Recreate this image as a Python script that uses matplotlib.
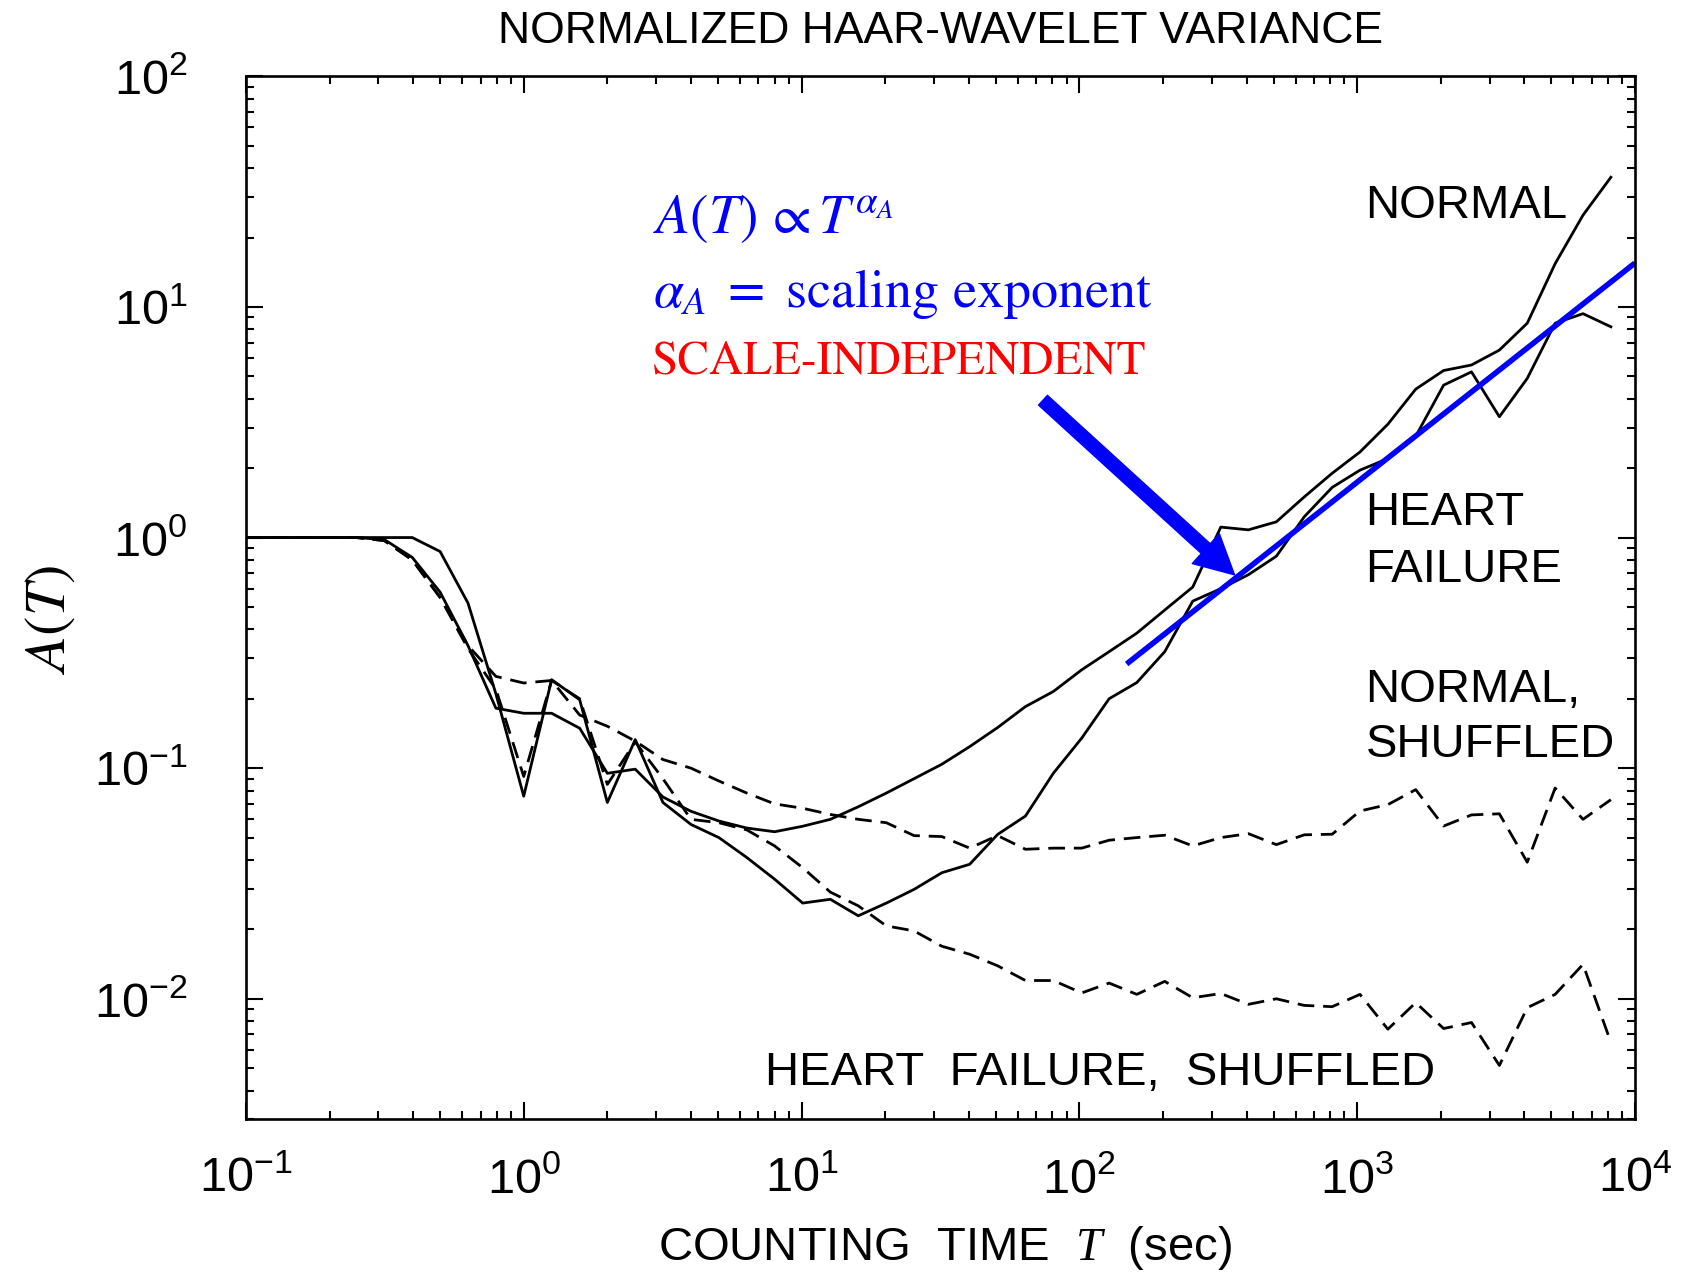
import matplotlib
matplotlib.use("Agg")
import matplotlib.pyplot as plt
from matplotlib.patches import FancyArrowPatch
from matplotlib.ticker import LogLocator, LogFormatterMathtext, NullFormatter

plt.rcParams['font.family'] = ['Liberation Sans', 'DejaVu Sans']
plt.rcParams['mathtext.fontset'] = 'custom'
plt.rcParams['mathtext.rm'] = 'Liberation Sans'
plt.rcParams['mathtext.it'] = 'Liberation Serif:italic'

# counting times (s), log spaced by 2^(1/3)
counting_time = [0.0992, 0.125, 0.157, 0.198, 0.25, 0.315, 0.397, 0.5, 0.63, 0.794,
                 1.0, 1.26, 1.59, 2.0, 2.52, 3.17, 4.0, 5.04, 6.35, 8.0,
                 10.1, 12.7, 16.0, 20.2, 25.4, 32.0, 40.3, 50.8, 64.0, 80.6,
                 102, 128, 161, 203, 256, 323, 406, 512, 645, 813,
                 1024, 1290, 1625, 2048, 2580, 3251, 4096, 5161, 6502, 8192]

normal = [1.0, 1.0, 1.0, 1.0, 1.0, 0.98, 0.82, 0.58, 0.34, 0.182,
          0.173, 0.173, 0.149, 0.095, 0.099, 0.075, 0.065, 0.059, 0.055, 0.053,
          0.056, 0.06, 0.068, 0.078, 0.09, 0.104, 0.124, 0.15, 0.185, 0.215,
          0.267, 0.32, 0.385, 0.485, 0.61, 1.11, 1.08, 1.17, 1.5, 1.9,
          2.35, 3.1, 4.4, 5.3, 5.6, 6.5, 8.5, 15.4, 25.0, 36.5]

heart_failure = [1.0, 1.0, 1.0, 1.0, 1.0, 1.0, 1.0, 0.87, 0.52, 0.21,
                 0.0756, 0.242, 0.198, 0.071, 0.133, 0.071, 0.057, 0.05, 0.041, 0.033,
                 0.026, 0.027, 0.0229, 0.026, 0.0298, 0.0352, 0.0383, 0.0516, 0.062, 0.095,
                 0.135, 0.2, 0.235, 0.32, 0.53, 0.6, 0.69, 0.83, 1.23, 1.65,
                 1.96, 2.2, 2.75, 4.58, 5.23, 3.34, 4.9, 8.5, 9.35, 8.2]

normal_shuffled = [1.0, 1.0, 1.0, 1.0, 1.0, 0.97, 0.8, 0.55, 0.34, 0.25,
                   0.234, 0.24, 0.17, 0.152, 0.131, 0.109, 0.1, 0.088, 0.078, 0.07,
                   0.067, 0.063, 0.06, 0.058, 0.051, 0.0505, 0.045, 0.051, 0.0445, 0.045,
                   0.045, 0.0487, 0.05, 0.0512, 0.046, 0.05, 0.052, 0.0466, 0.0514, 0.0517,
                   0.0652, 0.0695, 0.0807, 0.0561, 0.0627, 0.0634, 0.0391, 0.082, 0.06, 0.073]

hf_shuffled = [1.0, 1.0, 1.0, 1.0, 1.0, 0.97, 0.8, 0.55, 0.33, 0.22,
               0.092, 0.24, 0.2, 0.085, 0.13, 0.09, 0.06, 0.058, 0.054, 0.046,
               0.037, 0.029, 0.0253, 0.0207, 0.0197, 0.0169, 0.0156, 0.0139, 0.012, 0.012,
               0.0106, 0.0117, 0.01045, 0.0119, 0.0101, 0.01054, 0.00946, 0.01, 0.00936, 0.00924,
               0.01045, 0.00738, 0.00962, 0.00743, 0.00789, 0.00514, 0.00915, 0.01045, 0.0141, 0.00647]

# power-law fit A(T) ~ T^alpha
fit_T = [148, 10000]
fit_A = [0.283, 15.5]

fig = plt.figure(figsize=(16.96, 12.72), dpi=100)
ax = fig.add_axes([0.145, 0.120, 0.819, 0.820])

lw = 2.0
dash = (0, (6.0, 3.2))
ax.plot(counting_time, normal, color='black', lw=lw)
ax.plot(counting_time, heart_failure, color='black', lw=lw)
ax.plot(counting_time, normal_shuffled, color='black', lw=lw, linestyle=dash)
ax.plot(counting_time, hf_shuffled, color='black', lw=lw, linestyle=dash)
ax.plot(fit_T, fit_A, color='#0000ff', lw=4.0, solid_capstyle='butt')

ax.set_xscale('log')
ax.set_yscale('log')
ax.set_xlim(0.1, 1e4)
ax.set_ylim(0.003, 100)

for axis in (ax.xaxis, ax.yaxis):
    axis.set_major_locator(LogLocator(base=10, numticks=20))
    axis.set_minor_locator(LogLocator(base=10, subs=range(2, 10), numticks=20))
    axis.set_major_formatter(LogFormatterMathtext())
    axis.set_minor_formatter(NullFormatter())

ax.tick_params(which='both', direction='in', top=True, right=True, width=1.5)
ax.tick_params(which='major', length=12)
ax.tick_params(which='minor', length=6)
ax.tick_params(axis='y', which='major', labelsize=35, pad=42)
ax.tick_params(axis='x', which='major', labelsize=35, pad=27)
for s in ax.spines.values():
    s.set_linewidth(1.9)

ax.set_title('NORMALIZED HAAR-WAVELET VARIANCE', fontsize=32, pad=24)
fig.text(0.557, 0.0094, 'COUNTING  TIME  $T$  (sec)', fontsize=34,
         ha='center', va='baseline')
fig.text(0.0295, 0.513, r'$A(T)$', fontsize=42, rotation=90,
         ha='center', va='center', math_fontfamily='stix')

# curve labels
lab = dict(fontsize=34, transform=ax.transAxes, va='baseline', ha='left')
ax.text(0.806, 0.864, 'NORMAL', **lab)
ax.text(0.806, 0.5695, 'HEART', **lab)
ax.text(0.806, 0.515, 'FAILURE', **lab)
ax.text(0.806, 0.400, 'NORMAL,', **lab)
ax.text(0.806, 0.347, 'SHUFFLED', **lab)
ax.text(0.3737, 0.0326, 'HEART  FAILURE,  SHUFFLED', **lab)

# scaling annotation
ax.text(0.293, 0.8495, r'$A(T)\,\propto T^{\alpha_A}$', color='#0000ff', fontsize=40,
        transform=ax.transAxes, va='baseline', math_fontfamily='stix')
ax.text(0.293, 0.7785, r'$\alpha_A\;=$ scaling exponent', color='#0000ff', fontsize=39,
        family='STIXGeneral', transform=ax.transAxes, va='baseline', math_fontfamily='stix')
ax.text(0.2923, 0.715, 'SCALE-INDEPENDENT', color='#ff0000', fontsize=34,
        family='STIXGeneral', transform=ax.transAxes, va='baseline')

arrow = FancyArrowPatch((74, 3.94), (362, 0.689), mutation_scale=1,
                        arrowstyle='simple,head_length=28,head_width=29,tail_width=9.5',
                        color='#0000ff', shrinkA=0, shrinkB=0, zorder=5)
ax.add_patch(arrow)

fig.savefig('out.png', dpi=100)
